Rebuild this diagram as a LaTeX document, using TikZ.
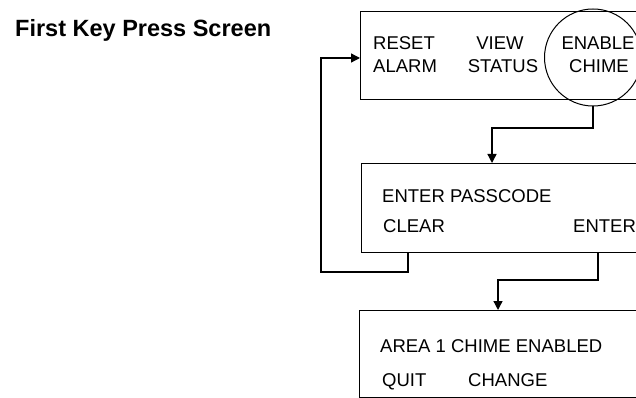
\documentclass[tikz,border=0pt]{standalone}
\usepackage{fontspec}
\setmainfont{Liberation Sans}
\usetikzlibrary{arrows.meta}
\begin{document}
\begin{tikzpicture}[x=1pt,y=-1pt,
  screen/.style = {draw, line width=1.3pt, anchor=north west, minimum width=300pt, inner sep=0pt},
  lbl/.style = {anchor=base west, inner sep=0pt, font=\fontsize{18.5}{18.5}\selectfont},
  key/.style = {anchor=base, inner sep=0pt, font=\fontsize{18.5}{18.5}\selectfont},
  arr/.style = {line width=1.3pt, -{Triangle[length=9pt,width=9pt]}}]
\clip (0,0) rectangle (636,398);
\node[anchor=base west, inner sep=0pt, font=\bfseries\fontsize{23.5}{23.5}\selectfont] (title) at (15,37) {First Key Press Screen};
% screens
\node[screen, minimum height=88pt] (menu) at (360,11) {};
\node[screen, minimum height=89pt] (pass) at (361,163) {};
\node[screen, minimum height=87pt] (done) at (359,310) {};
\node[draw, circle, line width=1pt, minimum size=97pt, inner sep=0pt] (chime) at (593,57.5) {};
% texts
\node[lbl] (reset) at (373,50) {RESET};
\node[lbl] (alarm) at (373,73) {ALARM};
\node[key] (view) at (500,50) {VIEW};
\node[key] (status) at (503,73) {STATUS};
\node[key] (enable) at (598,50) {ENABLE};
\node[key] (chm) at (599,73) {CHIME};
\node[lbl] (code) at (382,202) {ENTER PASSCODE};
\node[lbl] (clear) at (383,232) {CLEAR};
\node[lbl] (enter) at (573,232) {ENTER};
\node[lbl] (area) at (380,352) {AREA 1 CHIME ENABLED};
\node[lbl] (quit) at (382,386) {QUIT};
\node[lbl] (change) at (468,386) {CHANGE};
% connectors
\coordinate (in1) at (360,58);
\coordinate (in2) at (492,163);
\coordinate (in3) at (498,310);
\coordinate (out1) at (408,252);
\coordinate (out2) at (598,252);
\draw[arr] (chime.south) |- (492,128) -- (in2);
\draw[arr] (out1) |- (321,272) |- (in1);
\draw[arr] (out2) |- (498,280) -- (in3);
\end{tikzpicture}
\end{document}
